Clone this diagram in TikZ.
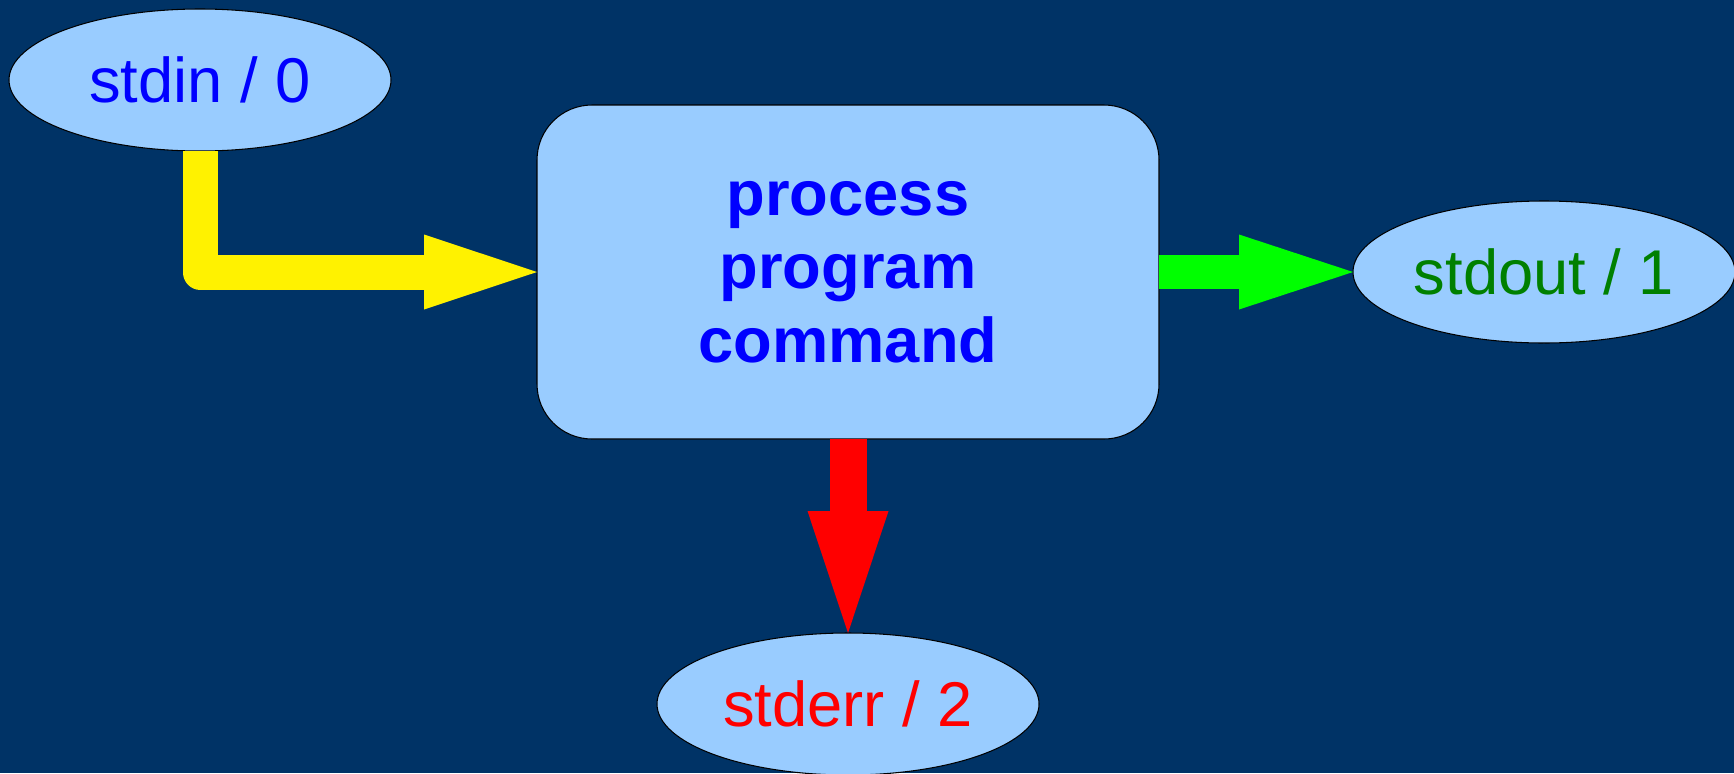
\documentclass[tikz,border=0pt]{standalone}
\usepackage{fontspec}
\setmainfont{Liberation Sans}
\usetikzlibrary{shapes.geometric,arrows.meta}
\definecolor{bgblue}{HTML}{003366}
\definecolor{boxblue}{HTML}{99CCFF}
\definecolor{txtgreen}{HTML}{008000}
\definecolor{pipegreen}{HTML}{00FF00}

\begin{document}
\begin{tikzpicture}[x=0.1mm, y=-0.1mm,
		stream/.style={ellipse, draw=black, line width=0.3pt, fill=boxblue,
			minimum width=38.2mm, minimum height=14.2mm, inner sep=0pt, outer sep=0pt,
			font=\fontsize{18}{21}\selectfont},
		task/.style={rectangle, rounded corners=5.5mm, draw=black, line width=0.3pt,
			fill=boxblue, minimum width=62.2mm, minimum height=33.4mm, outer sep=0pt,
			align=center, text=blue, font=\fontsize{18}{20.9}\selectfont\bfseries},
		pipe/.style={line width=3.5mm, line join=round}]
		
		\fill [bgblue] (0,0) rectangle (1734,773);
		\useasboundingbox (0,0) rectangle (1734,773);
		
		\node [task] (proc) at (848,272) {process\\program\\command};
		
		\node [stream, text=blue] (stdin) at (200,80) {stdin / 0};
		\node [stream, text=txtgreen] (stdout) at (1544,272) {stdout / 1};
		\node [stream, text=red] (stderr) at (848,704) {stderr / 2};
		
		% in, out and err
		\draw [pipe, yellow, -{Triangle[length=11.3mm, width=7.5mm, line width=0pt]}]
		(stdin.south) |- (proc.west);
		\draw [pipe, pipegreen, line width=3.4mm, -{Triangle[length=11.4mm, width=7.5mm, line width=0pt]}]
		(proc.east) -- (stdout.west);
		\draw [pipe, red, line width=3.7mm, -{Triangle[length=12.2mm, width=8.1mm, line width=0pt]}]
		(proc.south) -- (stderr.north);
		
	\end{tikzpicture}
\end{document}
